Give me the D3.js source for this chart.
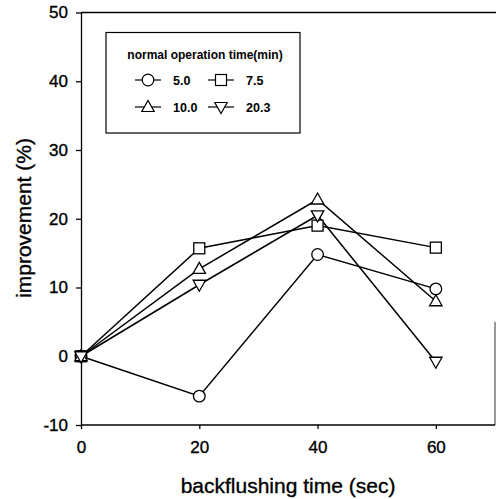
<!DOCTYPE html>
<html><head><meta charset="utf-8">
<script src="https://cdn.jsdelivr.net/npm/d3@7"></script>
<style>body{margin:0;background:#fff}svg{display:block}text{font-family:"Liberation Sans",Arial,sans-serif;fill:#000}</style>
</head><body>
<svg id="c" width="496" height="499"></svg>
<script>
const xValues = [0, 20, 40, 60];
const seriesNames = ["5.0", "7.5", "10.0", "20.3"];
const seriesSymbols = ["circle", "square", "triangleUp", "triangleDown"];
const s5_0 = [0, -5.8, 14.8, 9.8];
const s7_5 = [0, 15.7, 19.0, 15.8];
const s10_0 = [0, 12.7, 22.8, 8.0];
const s20_3 = [0, 10.4, 20.5, -0.8];
const xTicks = [0, 20, 40, 60];
const yTicks = [-10, 0, 10, 20, 30, 40, 50];
const legendTitle = "normal operation time(min)";
const xLabel = "backflushing time (sec)";
const yLabel = "improvement (%)";

const series = [s5_0, s7_5, s10_0, s20_3];
const svg = d3.select("#c");
const L = 81, R = 495, T = 12.5, B = 425;
const x = d3.scaleLinear().domain([0, 70]).range([L, R]);
const y = d3.scaleLinear().domain([-10, 50]).range([B, T]);

function sym(g, type, cx, cy) {
  if (type === "circle") {
    g.append("circle").attr("cx", cx).attr("cy", cy).attr("r", 5.8);
  } else if (type === "square") {
    g.append("rect").attr("x", cx - 5.5).attr("y", cy - 5.5).attr("width", 11).attr("height", 11);
  } else if (type === "triangleUp") {
    g.append("path").attr("d", `M${cx},${cy-6.5}L${cx+6.2},${cy+4.5}L${cx-6.2},${cy+4.5}Z`);
  } else {
    g.append("path").attr("d", `M${cx},${cy+6.5}L${cx+6.2},${cy-4.5}L${cx-6.2},${cy-4.5}Z`);
  }
}

// axes
const gx = svg.append("g").attr("transform", `translate(0,${B})`)
  .call(d3.axisBottom(x).tickValues(xTicks).tickFormat(d => String(d)).tickSize(4).tickSizeOuter(0).tickPadding(12));
const gy = svg.append("g").attr("transform", `translate(${L},0)`)
  .call(d3.axisLeft(y).tickValues(yTicks).tickFormat(d => String(d)).tickSize(5).tickSizeOuter(0).tickPadding(8));
[gx, gy].forEach(g => {
  g.select(".domain").attr("stroke", "#000").attr("stroke-width", 1.3);
  g.selectAll(".tick line").attr("stroke", "#000").attr("stroke-width", 1.3);
  g.selectAll(".tick text").style("font-size", "17px").style("font-family", '"Liberation Sans",Arial,sans-serif')
    .attr("fill", "#000").attr("stroke", "#000").attr("stroke-width", 0.35);
});
gx.select(".domain").attr("d", `M${L},0H${R}`);
// top frame and partial right frame
svg.append("line").attr("x1", L).attr("x2", 496).attr("y1", T).attr("y2", T).attr("stroke", "#000").attr("stroke-width", 1.3);
svg.append("line").attr("x1", R).attr("x2", R).attr("y1", y(5)).attr("y2", B).attr("stroke", "#000").attr("stroke-width", 0.8);

// lines
const line = d3.line().x((d, i) => x(xValues[i])).y(d => y(d));
const lg = svg.append("g").attr("fill", "none").attr("stroke", "#000").attr("stroke-width", 1.5);
series.forEach(s => lg.append("path").attr("d", line(s)));
const mg = svg.append("g").attr("fill", "#fff").attr("stroke", "#000").attr("stroke-width", 1.3);
series.forEach((s, k) => s.forEach((v, i) => sym(mg, seriesSymbols[k], x(xValues[i]), y(v))));

// axis labels
svg.append("text").attr("x", 288).attr("y", 493).attr("text-anchor", "middle").style("font-size", "21px")
  .attr("stroke", "#000").attr("stroke-width", 0.35).text(xLabel);
svg.append("text").attr("transform", "translate(31,218) rotate(-90)").attr("text-anchor", "middle").style("font-size", "21px")
  .attr("stroke", "#000").attr("stroke-width", 0.35).text(yLabel);

// legend
const leg = svg.append("g");
leg.append("rect").attr("x", 106).attr("y", 32.5).attr("width", 194).attr("height", 100.5).attr("fill", "#fff").attr("stroke", "#000").attr("stroke-width", 1.2);
leg.append("text").attr("x", 205).attr("y", 59).attr("text-anchor", "middle").style("font-size", "12px").style("font-weight", "bold").text(legendTitle);
const pos = [[148, 80], [221, 80], [148, 107], [221, 107]];
seriesNames.forEach((n, k) => {
  const [cx, cy] = pos[k];
  leg.append("line").attr("x1", cx - 13).attr("x2", cx + 13).attr("y1", cy).attr("y2", cy).attr("stroke", "#000").attr("stroke-width", 1.2);
  const g = leg.append("g").attr("fill", "#fff").attr("stroke", "#000").attr("stroke-width", 1.2);
  sym(g, seriesSymbols[k], cx, cy);
  leg.append("text").attr("x", cx + 25).attr("y", cy + 4.5).style("font-size", "12.5px").style("font-weight", "bold").text(n);
});
</script>
</body></html>
